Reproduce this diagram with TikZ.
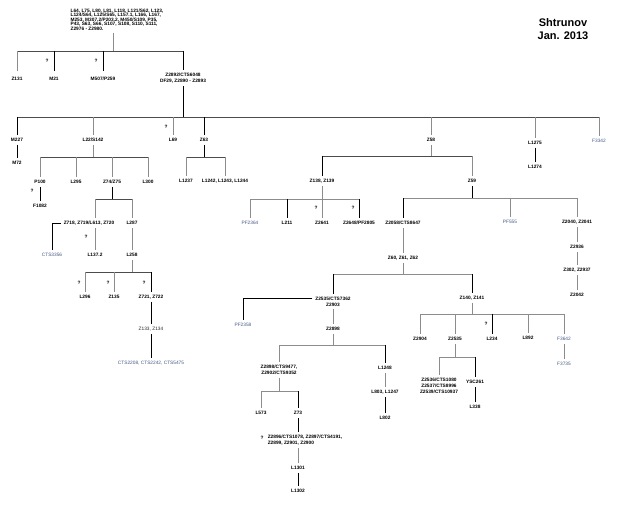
\documentclass[tikz,border=0pt]{standalone}
\usepackage{fontspec}
\setmainfont{Liberation Sans}
\definecolor{bluegray}{RGB}{70,90,135}
\begin{document}
\begin{tikzpicture}[x=1pt,y=-1pt,
  t/.style={font=\fontsize{4.8}{5.5}\selectfont\bfseries, inner sep=0pt, outer sep=3pt, text height=3.5pt, text depth=0.5pt},
  tm/.style={font=\fontsize{4.8}{5.8}\selectfont\bfseries, inner sep=0pt, outer sep=3pt, align=center},
  g/.style={t, text=bluegray, font=\fontsize{4.8}{5.5}\selectfont},
  q/.style={font=\fontsize{4.8}{5.5}\selectfont\bfseries, inner sep=0pt},
  lk/.style={draw=black, line width=0.9pt},
  lg/.style={draw=black!45, line width=0.9pt},
  ld/.style={draw=black!70, line width=0.9pt}]
\useasboundingbox (0,0) rectangle (640,529);
\fill[white] (0,0) rectangle (640,529);

% title
\node[font=\fontsize{11}{13}\selectfont\bfseries, align=center, inner sep=0pt] (title) at (563,29.5) {Shtrunov\\Jan. 2013};

% root
\node[font=\fontsize{4.8}{4.4}\selectfont\bfseries, align=left, inner sep=0pt, outer sep=3pt] (root) at (117,19.5)
 {L64, L75, L80, L81, L118, L121/S62, L123,\\L124/S64, L125/S65, L157.1, L166, L167,\\M253, M307.2/P203.2, M450/S109, P35,\\P43, S63, S66, S107, S108, S110, S111,\\Z2976 - Z2980.};

% level 1
\node[t] (z131) at (17,79) {Z131};
\node[q] (q1) at (47,61) {?};
\node[t] (m21) at (54,79) {M21};
\node[q] (q2) at (96,61) {?};
\node[t] (m507) at (103,79) {M507/P259};
\node[tm] (z2892) at (183,78) {Z2892/CTS6048\\DF29, Z2890 - Z2893};

% level 2
\node[t] (m227) at (17,140) {M227};
\node[t] (m72) at (17,163) {M72};
\node[t] (l22) at (93,140) {L22/S142};
\node[q] (q3) at (166,127) {?};
\node[t] (l69) at (173,140) {L69};
\node[t] (z63) at (204,140) {Z63};
\node[t] (z58) at (431,140) {Z58};
\node[t] (l1275) at (535,143) {L1275};
\node[t] (l1274) at (535,167) {L1274};
\node[g] (f3342) at (599,141) {F3342};

% L22 subtree
\node[t] (p100) at (40,182) {P100};
\node[q] (q4) at (32,191) {?};
\node[t] (f1082) at (40,206) {F1082};
\node[t] (l295) at (76,182) {L295};
\node[t] (z7475) at (112,182) {Z74/Z75};
\node[t] (l300) at (148,182) {L300};
\node[t] (z718) at (89,223) {Z718, Z719/L613, Z720};
\node[t] (l287) at (132,223) {L287};
\node[g] (cts3356) at (52,255) {CTS3356};
\node[q] (q5) at (86,237) {?};
\node[t] (l1372) at (95,255) {L137.2};
\node[t] (l258) at (132,255) {L258};
\node[q] (q6) at (79,283) {?};
\node[t] (l296) at (85,297) {L296};
\node[q] (q7) at (108,283) {?};
\node[t] (z135) at (114,297) {Z135};
\node[q] (q8) at (144,283) {?};
\node[t] (z721) at (151,297) {Z721, Z722};
\node[t, font=\fontsize{4.8}{5.5}\selectfont, text=black!85] (z133) at (151,329) {Z133, Z134};
\node[g] (cts2208) at (151,363) {CTS2208, CTS2242, CTS5475};

% Z63 subtree
\node[t] (l1237) at (186,181) {L1237};
\node[t] (l1242) at (225,181) {L1242, L1243, L1244};

% Z58 subtree
\node[t] (z138) at (322,181) {Z138, Z139};
\node[t] (z59) at (472,181) {Z59};
\node[g] (pf2364) at (250,223) {PF2364};
\node[t] (l211) at (287,223) {L211};
\node[q] (q9) at (316,208) {?};
\node[t] (z2641) at (322,223) {Z2641};
\node[q] (q10) at (353,208) {?};
\node[t] (z2648) at (359,223) {Z2648/PF2805};
\node[t] (z2058) at (403,223) {Z2058/CTS8647};
\node[g] (pf555) at (510,222) {PF555};
\node[t] (z2040) at (577,222) {Z2040, Z2041};
\node[t] (z2936) at (577,247) {Z2936};
\node[t] (z302) at (577,270) {Z302, Z2937};
\node[t] (z2042) at (577,295) {Z2042};
\node[t] (z60) at (403,258) {Z60, Z61, Z62};
\node[tm] (z2535) at (333,301.5) {Z2535/CTS7362\\Z2903};
\node[t] (z140) at (472,298) {Z140, Z141};
\node[g] (pf2358) at (243,325) {PF2358};
\node[t] (z2898) at (333,329) {Z2898};
\node[tm] (z2898b) at (279,370) {Z2898/CTS9477,\\Z2902/CTS9352};
\node[t] (l1248) at (385,368) {L1248};
\node[t] (l803) at (385,392) {L803, L1247};
\node[t] (l802) at (385,418) {L802};
\node[t] (l573) at (261,413) {L573};
\node[t] (z73) at (298,413) {Z73};
\node[q] (q11) at (262,438) {?};
\node[font=\fontsize{4.8}{5.8}\selectfont\bfseries, align=left, inner sep=0pt, outer sep=3pt] (z2896) at (305,440) {Z2896/CTS1078, Z2897/CTS4191,\\Z2899, Z2901, Z2900};
\node[t] (l1301) at (298,468) {L1301};
\node[t] (l1302) at (298,491) {L1302};
\node[t] (z2904) at (420,339) {Z2904};
\node[t] (z2535b) at (455,339) {Z2535};
\node[q] (q12) at (486,324) {?};
\node[t] (l234) at (492,339) {L234};
\node[t] (l892) at (528,338) {L892};
\node[g] (f3642) at (564,339) {F3642};
\node[g] (f3735) at (564,364) {F3735};
\node[tm] (z2536) at (439,386) {Z2536/CTS1080\\Z2537/CTS8996\\Z2539/CTS10937};
\node[t] (ysc261) at (475,382) {YSC261};
\node[t] (l338) at (475,407) {L338};

% ---- connectors ----
% level 1
\draw[lg] ([xshift=-4pt]root.south) -- ([xshift=-4pt]root.south |- 0,51);
\draw[ld] (z131.north |- 0,51) -- (z2892.north |- 0,51);
\draw[lg] (z131.north |- 0,51) -- ([yshift=3pt]z131.north);
\draw[lk] (m21.north |- 0,51) -- ([yshift=3pt]m21.north);
\draw[lk] (m507.north |- 0,51) -- ([yshift=3pt]m507.north);
\draw[lk] (z2892.north |- 0,51) -- (z2892.north);
% level 2
\draw[lk] (z2892.south) -- (z2892.south |- 0,117);
\draw[ld] (m227.north |- 0,117) -- (f3342.north |- 0,117);
\draw[lk] (m227.north |- 0,117) -- (m227.north);
\draw[lg] (l22.north |- 0,117) -- (l22.north);
\draw[lg] (l69.north |- 0,117) -- (l69.north);
\draw[lk] (z63.north |- 0,117) -- (z63.north);
\draw[lg] (z58.north |- 0,117) -- (z58.north);
\draw[lg] (l1275.north |- 0,117) -- (l1275.north);
\draw[lg] (f3342.north |- 0,117) -- (f3342.north);
\draw[lk] (m227) -- (m72);
\draw[lk] (l1275) -- (l1274);
% L22
\draw[lg] (l22.south) -- (l22.south |- 0,157);
\draw[ld] (p100.north |- 0,157) -- (l300.north |- 0,157);
\draw[lg] (p100.north |- 0,157) -- (p100.north);
\draw[lg] (l295.north |- 0,157) -- (l295.north);
\draw[lg] (z7475.north |- 0,157) -- (z7475.north);
\draw[lg] (l300.north |- 0,157) -- (l300.north);
\draw[lk] (p100) -- (f1082);
% Z74/Z75
\draw[lk] (z7475.south) -- (z7475.south |- 0,199);
\draw[ld] (l1372.north |- 0,199) -- (l287.north |- 0,199);
\draw[lg] (l1372.north |- 0,199) -- (l1372.north |- z718.north);
\draw[lg] (l287.north |- 0,199) -- (l287.north);
\draw[lk] (z718.west) -| (cts3356.north);
\draw[lg] (l1372.north |- z718.south) -- (l1372.north);
\draw[lg] (l287) -- (l258);
% L258
\draw[lg] (l258.south) -- (l258.south |- 0,272);
\draw[ld] (l296.north |- 0,272) -- (z721.north |- 0,272);
\draw[lg] (l296.north |- 0,272) -- (l296.north);
\draw[lg] (z135.north |- 0,272) -- (z135.north);
\draw[lk] (z721.north |- 0,272) -- (z721.north);
\draw[lk] (z721) -- (z133);
\draw[lk] (z133) -- (cts2208);
% Z63
\draw[lk] (z63.south) -- (z63.south |- 0,157);
\draw[ld] (l1237.north |- 0,157) -- (l1242.north |- 0,157);
\draw[lg] (l1237.north |- 0,157) -- (l1237.north);
\draw[lg] (l1242.north |- 0,157) -- (l1242.north);
% Z58
\draw[lg] (z58.south) -- (z58.south |- 0,156);
\draw[ld] (z138.north |- 0,156) -- (z59.north |- 0,156);
\draw[lk] (z138.north |- 0,156) -- (z138.north);
\draw[lg] (z59.north |- 0,156) -- (z59.north);
% Z138
\draw[lg] (z138.south) -- (z138.south |- 0,199);
\draw[lg] (pf2364.north |- 0,199) -- (z2648.north |- 0,199);
\draw[lg] (pf2364.north |- 0,199) -- (pf2364.north);
\draw[lk] (l211.north |- 0,199) -- (l211.north);
\draw[lg] (z2641.north |- 0,199) -- (z2641.north);
\draw[lk] (z2648.north |- 0,199) -- (z2648.north);
% Z59
\draw[lk] (z59.south) -- (z59.south |- 0,198);
\draw[lg] (z2058.north |- 0,198) -- (z2040.north |- 0,198);
\draw[lk] (z2058.north |- 0,198) -- (z2058.north);
\draw[lg] (pf555.north |- 0,198) -- (pf555.north);
\draw[lg] (z2040.north |- 0,198) -- (z2040.north);
\draw[lg] (z2040) -- (z2936);
\draw[lg] (z2936) -- (z302);
\draw[lg] (z302) -- (z2042);
\draw[lg] (z2058) -- (z60);
% Z60
\draw[lg] (z60.south) -- (z60.south |- 0,274);
\draw[lg] (z2535.north |- 0,274) -- (z140.north |- 0,274);
\draw[lk] (z2535.north |- 0,274) -- (z2535.north);
\draw[lk] (z140.north |- 0,274) -- (z140.north);
\draw[lk] ([yshift=3pt]z2535.west) -| (pf2358.north);
\draw[lg] (z2535) -- (z2898);
% Z2898
\draw[lg] (z2898.south) -- (z2898.south |- 0,345);
\draw[lg] (z2898b.north |- 0,345) -- (l1248.north |- 0,345);
\draw[lg] (z2898b.north |- 0,345) -- (z2898b.north);
\draw[lk] (l1248.north |- 0,345) -- (l1248.north);
\draw[lg] (l1248) -- (l803);
\draw[lk] (l803) -- (l802);
\draw[lg] (z2898b.south) -- (z2898b.south |- 0,391);
\draw[lg] (l573.north |- 0,391) -- (z73.north |- 0,391);
\draw[lg] (l573.north |- 0,391) -- (l573.north);
\draw[lk] (z73.north |- 0,391) -- (z73.north);
\draw[lk] (z73.south) -- (z73.south |- z2896.north);
\draw[lg] (z73.south |- z2896.south) -- (l1301.north);
\draw[lk] (l1301) -- (l1302);
% Z140
\draw[lg] (z140.south) -- (z140.south |- 0,314);
\draw[lg] (z2904.north |- 0,314) -- (f3642.north |- 0,314);
\draw[lg] (z2904.north |- 0,314) -- (z2904.north);
\draw[lg] (z2535b.north |- 0,314) -- (z2535b.north);
\draw[lk] (l234.north |- 0,314) -- (l234.north);
\draw[lg] (l892.north |- 0,314) -- (l892.north);
\draw[lg] (f3642.north |- 0,314) -- (f3642.north);
\draw[lg] (f3642) -- (f3735);
% Z2535
\draw[lg] (z2535b.south) -- (z2535b.south |- 0,357);
\draw[lg] (z2536.north |- 0,357) -- (ysc261.north |- 0,357);
\draw[lg] (z2536.north |- 0,357) -- (z2536.north);
\draw[lk] (ysc261.north |- 0,357) -- (ysc261.north);
\draw[lk] (ysc261) -- (l338);
\end{tikzpicture}
\end{document}
